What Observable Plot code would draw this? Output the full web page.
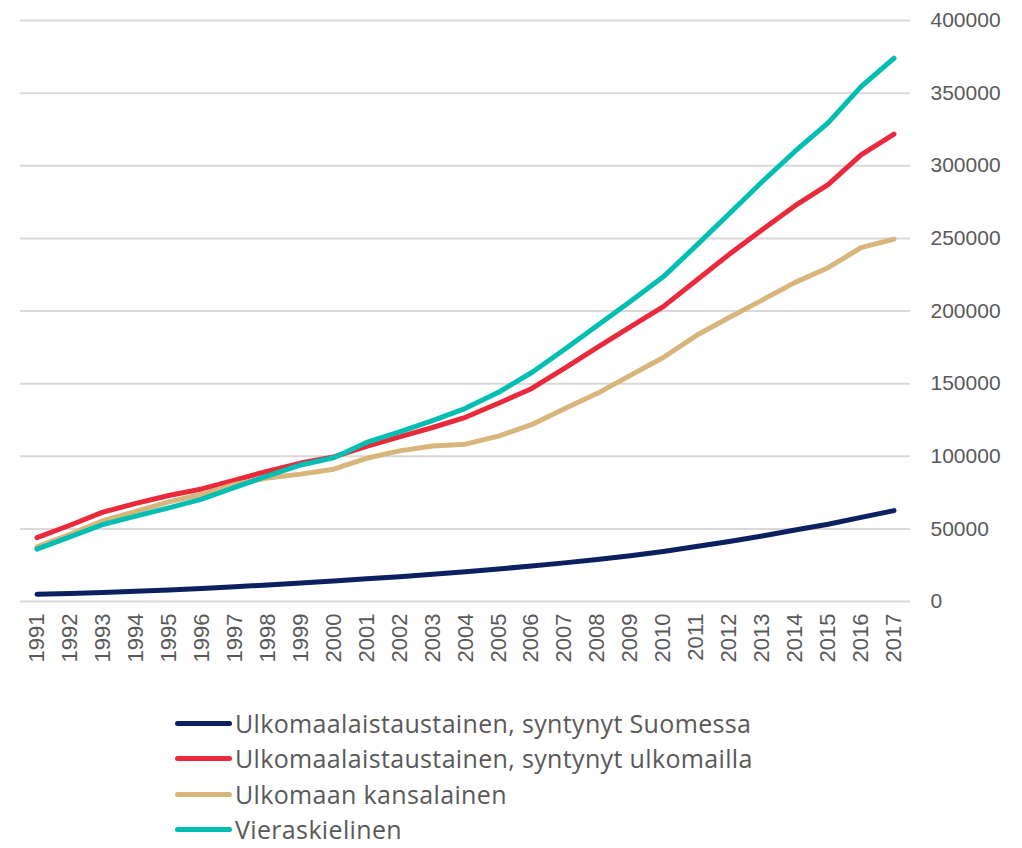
<!DOCTYPE html>
<html><head><meta charset="utf-8">
<script src="https://cdn.jsdelivr.net/npm/d3@7"></script>
<script src="https://cdn.jsdelivr.net/npm/@observablehq/plot@0.6"></script>
<style>
body{margin:0;background:#fff;font-family:"Liberation Sans",Arial,sans-serif;}
#chart{position:absolute;left:0;top:0;}
#legend{position:absolute;left:175px;top:706px;}
.item{display:flex;align-items:center;height:35.3px;font-family:"Open Sans","Liberation Sans",sans-serif;font-size:25px;letter-spacing:0.35px;line-height:1;color:#595959;white-space:nowrap;}
.sw{width:57px;height:5px;border-radius:3px;margin-right:3px;}
</style></head><body><div id="chart"></div><div id="legend"></div>
<script>
const years = [1991,1992,1993,1994,1995,1996,1997,1998,1999,2000,2001,2002,2003,2004,2005,2006,2007,2008,2009,2010,2011,2012,2013,2014,2015,2016,2017];
const seriesNames = ["Ulkomaalaistaustainen, syntynyt Suomessa","Ulkomaalaistaustainen, syntynyt ulkomailla","Ulkomaan kansalainen","Vieraskielinen"];
const seriesColors = ["#0b205e","#ea2a3b","#d8b67b","#00bfb2"];
const bornInFinland = [5000,5500,6200,7000,8000,9000,10200,11400,12800,14100,15600,17000,18800,20500,22400,24400,26600,28900,31500,34400,37800,41300,45100,49200,53200,57900,62600];
const bornAbroad = [44000,52500,61500,67500,73000,77500,83500,89800,95300,99500,106800,113300,119800,126800,136500,146500,160500,175000,189000,203000,221000,239000,256000,272500,287000,307500,321800];
const foreignCitizens = [37600,46200,55600,62000,68600,73800,80600,85100,87700,91100,98600,103700,107000,108300,113900,121700,132700,143300,155700,168000,183100,195500,207500,219700,229800,243600,249500];
const foreignLanguage = [36000,44500,53000,58800,64500,70500,78500,86500,94000,99000,109500,116800,124500,133000,144000,157500,173500,190000,206500,223500,245000,267000,289000,310000,329500,354500,374000];
const yTicks = [0,50000,100000,150000,200000,250000,300000,350000,400000];

const seriesValues = [bornInFinland, bornAbroad, foreignCitizens, foreignLanguage];
const data = [];
seriesNames.forEach((s, i) => years.forEach((y, j) => data.push({series: s, year: y, value: seriesValues[i][j]})));

const plot = Plot.plot({
  width: 1022,
  height: 690,
  marginLeft: 20,
  marginRight: 112,
  marginTop: 20,
  marginBottom: 89,
  style: {fontFamily: "'Liberation Sans', Arial, sans-serif", fontSize: "21px", color: "#595959", background: "#fff"},
  x: {type: "point", domain: years, padding: 0.5, round: false, label: null, tickRotate: -90, tickSize: 0, tickPadding: 12, tickFormat: d => String(d)},
  y: {domain: [0, 400000], ticks: yTicks, label: null, axis: "right", tickSize: 0, tickPadding: 20, tickFormat: d => String(d)},
  color: {domain: seriesNames, range: seriesColors},
  marks: [
    Plot.gridY(yTicks, {stroke: "#d9d9d9", strokeOpacity: 1, strokeWidth: 2}),
    Plot.line(data, {x: "year", y: "value", z: "series", stroke: "series", strokeWidth: 5, strokeLinecap: "round", strokeLinejoin: "round"})
  ]
});
plot.querySelectorAll('[aria-label="x-axis tick label"] text').forEach(t => t.style.fontSize = "22px");
document.getElementById("chart").appendChild(plot);

const legend = document.getElementById("legend");
seriesNames.forEach((s, i) => {
  const d = document.createElement("div");
  d.className = "item";
  d.innerHTML = `<span class="sw" style="background:${seriesColors[i]}"></span><span>${s}</span>`;
  legend.appendChild(d);
});
</script>
</body></html>
